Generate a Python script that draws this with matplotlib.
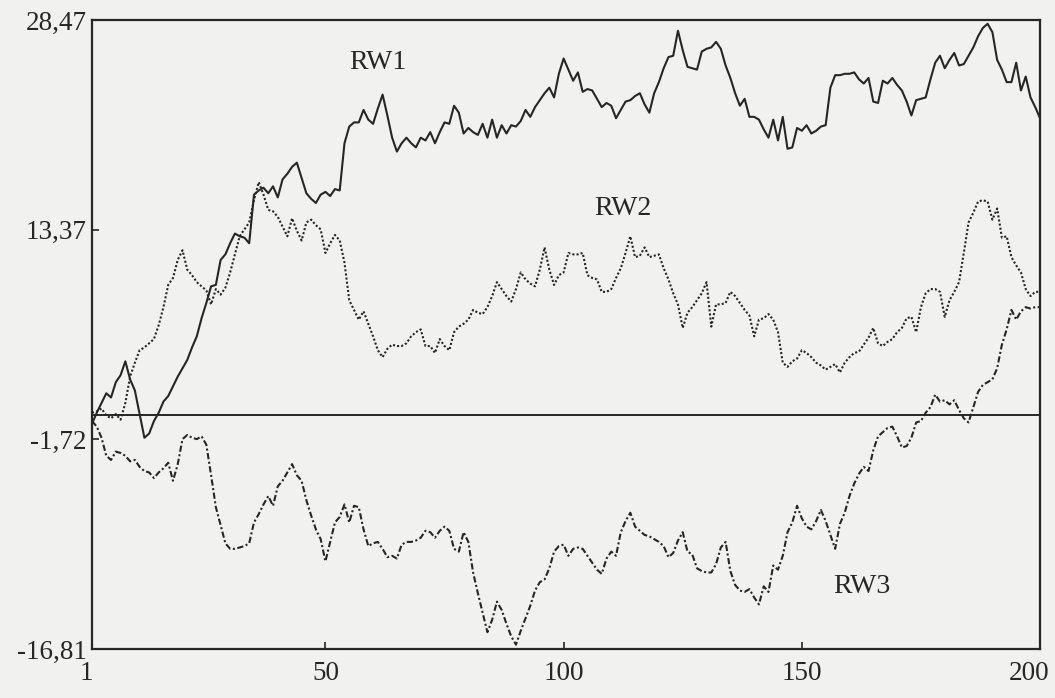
import numpy as np
import matplotlib
matplotlib.use("Agg")
import matplotlib.pyplot as plt
from matplotlib.transforms import offset_copy

# three random walks, 200 steps each
rw1 = [-0.6, 0.2, 0.9, 1.6, 1.3, 2.4, 2.9, 3.9, 2.6, 1.8,
       0.1, -1.6, -1.3, -0.4, 0.2, 1.0, 1.4, 2.1, 2.8, 3.4,
       4.0, 4.9, 5.7, 7.0, 8.1, 9.3, 9.4, 11.2, 11.6, 12.4,
       13.1, 12.9, 12.8, 12.4, 15.9, 16.2, 16.4, 16.0, 16.5, 15.7,
       17.0, 17.4, 17.9, 18.2, 17.1, 16.0, 15.6, 15.3, 15.9, 16.1,
       15.8, 16.3, 16.2, 19.6, 20.8, 21.1, 21.1, 22.0, 21.3, 21.0,
       22.1, 23.1, 21.6, 20.0, 19.0, 19.6, 20.0, 19.6, 19.3, 20.0,
       19.8, 20.4, 19.6, 20.4, 21.1, 21.0, 22.3, 21.8, 20.3, 20.7,
       20.4, 20.2, 21.0, 20.0, 21.3, 20.0, 20.9, 20.3, 20.9, 20.8,
       21.2, 22.0, 21.5, 22.2, 22.7, 23.2, 23.6, 22.9, 24.6, 25.7,
       24.9, 24.1, 24.7, 23.3, 23.5, 23.4, 22.8, 22.2, 22.5, 22.3,
       21.4, 22.0, 22.6, 22.7, 23.0, 23.2, 22.4, 21.8, 23.2, 24.0,
       25.0, 25.8, 25.9, 27.7, 26.3, 25.1, 25.0, 24.9, 26.2, 26.4,
       26.5, 26.9, 26.4, 25.2, 24.3, 23.2, 22.3, 22.8, 21.5, 21.5,
       21.3, 20.6, 20.0, 21.3, 19.8, 21.5, 19.2, 19.3, 20.7, 20.5,
       20.9, 20.3, 20.5, 20.8, 20.9, 23.6, 24.5, 24.5, 24.6, 24.6,
       24.7, 24.2, 23.9, 24.3, 22.6, 22.5, 24.1, 23.9, 24.3, 23.8,
       23.4, 22.6, 21.6, 22.7, 22.8, 22.9, 24.2, 25.4, 25.9, 25.0,
       25.6, 26.1, 25.2, 25.3, 25.9, 26.5, 27.3, 27.9, 28.2, 27.6,
       25.6, 24.9, 24.0, 24.0, 25.4, 23.4, 24.4, 22.9, 22.2, 21.4]

rw2 = [0.2, 0.3, 0.5, 0.0, -0.2, 0.1, -0.3, 0.9, 2.8, 3.8,
       4.7, 4.9, 5.2, 5.5, 6.5, 7.8, 9.4, 9.9, 11.2, 11.9,
       10.5, 10.1, 9.6, 9.3, 9.0, 8.0, 9.1, 8.7, 9.2, 10.3,
       11.6, 12.9, 13.4, 13.9, 15.5, 16.8, 15.9, 14.8, 14.7, 14.3,
       13.6, 12.9, 14.2, 13.3, 12.6, 13.9, 14.1, 13.7, 13.4, 11.7,
       12.4, 13.0, 12.6, 11.0, 8.3, 7.6, 6.9, 7.5, 6.6, 5.7,
       4.7, 4.2, 4.8, 5.1, 5.0, 5.0, 5.2, 5.7, 6.0, 6.2,
       5.0, 5.0, 4.5, 5.5, 5.0, 4.7, 6.0, 6.4, 6.6, 6.9,
       7.6, 7.4, 7.3, 7.8, 8.6, 9.6, 9.1, 8.6, 8.2, 9.1,
       10.3, 9.8, 9.5, 9.3, 10.5, 12.1, 10.5, 9.4, 10.1, 10.3,
       11.7, 11.6, 11.6, 11.7, 10.1, 9.9, 9.8, 8.9, 8.9, 9.1,
       9.9, 10.6, 11.7, 12.9, 11.4, 11.5, 12.1, 11.4, 11.5, 11.6,
       10.6, 9.8, 8.8, 8.0, 6.3, 7.4, 7.8, 8.3, 8.8, 9.6,
       6.4, 8.0, 8.0, 8.1, 8.9, 8.6, 8.1, 7.6, 7.2, 5.7,
       6.9, 7.0, 7.3, 6.9, 6.0, 3.8, 3.5, 3.9, 4.1, 4.7,
       4.5, 4.2, 3.8, 3.6, 3.3, 3.5, 3.7, 3.1, 3.8, 4.2,
       4.5, 4.6, 5.1, 5.6, 6.3, 5.2, 5.0, 5.3, 5.5, 6.0,
       6.3, 7.0, 7.1, 6.0, 7.8, 8.8, 9.1, 9.1, 8.9, 7.1,
       8.3, 8.9, 9.6, 11.7, 13.9, 14.6, 15.4, 15.5, 15.4, 14.1,
       14.9, 12.8, 12.9, 11.4, 10.8, 10.3, 9.1, 8.6, 8.9, 8.9]

rw3 = [-0.4, -0.8, -1.6, -2.9, -3.2, -2.6, -2.7, -2.9, -3.3, -3.2,
       -3.7, -4.0, -4.1, -4.5, -4.1, -3.8, -3.4, -4.7, -3.5, -1.7,
       -1.4, -1.6, -1.7, -1.5, -2.1, -4.3, -6.6, -7.9, -9.2, -9.6,
       -9.6, -9.5, -9.4, -9.2, -7.7, -7.1, -6.4, -5.8, -6.5, -5.1,
       -4.7, -4.1, -3.5, -4.3, -4.7, -6.1, -7.2, -8.2, -8.9, -10.5,
       -9.1, -7.7, -7.3, -6.4, -7.7, -6.5, -6.6, -8.2, -9.4, -9.2,
       -9.1, -9.6, -10.2, -10.1, -10.3, -9.3, -9.1, -9.1, -9.0, -8.8,
       -8.3, -8.4, -8.8, -8.3, -8.0, -8.3, -9.6, -9.8, -8.4, -9.1,
       -11.3, -12.8, -14.2, -15.6, -14.7, -13.4, -14.0, -15.0, -15.9, -16.5,
       -15.5, -14.6, -13.7, -12.6, -12.0, -11.8, -11.0, -9.8, -9.4, -9.3,
       -10.1, -9.6, -9.5, -9.6, -10.1, -10.6, -11.1, -11.4, -10.3, -9.8,
       -10.1, -8.4, -7.6, -7.0, -8.0, -8.3, -8.6, -8.7, -8.9, -9.1,
       -9.4, -10.2, -9.9, -9.0, -8.4, -9.8, -10.0, -11.0, -11.2, -11.3,
       -11.3, -10.7, -9.5, -9.1, -11.2, -12.2, -12.6, -12.7, -12.5, -13.1,
       -13.6, -12.3, -12.7, -10.8, -11.1, -10.1, -8.4, -7.7, -6.5, -7.4,
       -8.0, -8.2, -7.6, -6.8, -7.6, -8.6, -9.6, -7.8, -7.0, -5.8,
       -4.9, -4.2, -3.7, -4.0, -2.5, -1.5, -1.2, -0.9, -0.8, -1.5,
       -2.3, -2.2, -1.6, -0.5, -0.4, 0.2, 0.6, 1.5, 1.0, 1.1,
       0.8, 1.1, 0.4, -0.2, -0.5, 0.6, 1.7, 2.2, 2.4, 2.6,
       3.4, 5.1, 6.2, 7.6, 6.9, 7.5, 7.8, 7.7, 7.8, 7.8]

y_ticks = [28.47, 13.37, -1.72, -16.81]
y_ticklabels = ['28,47', '13,37', '-1,72', '-16,81']
x_ticks = [1, 50, 100, 150, 200]
x_ticklabels = ['1', '50', '100', '150', '200']

plt.rcParams['font.family'] = ['Liberation Serif', 'DejaVu Serif']
ink = '#262626'
paper = '#f1f1ef'

steps = np.arange(1, len(rw1) + 1)

fig = plt.figure(figsize=(10.55, 6.98), dpi=100, facecolor=paper)
ax = fig.add_axes([0.0872, 0.0702, 0.8986, 0.9011], facecolor=paper)

ax.plot(steps, rw1, color=ink, lw=1.5, linestyle='-')
ax.plot(steps, rw2, color=ink, lw=1.5, linestyle=(0, (1, 1)))
ax.plot(steps, rw3, color=ink, lw=1.5, linestyle=(0, (3, 1.2, 1, 1.2)))
ax.axhline(0, color=ink, lw=1.4)

ax.text(61, 25.4, 'RW1', fontsize=20, color=ink, ha='center', va='center')
ax.text(112.5, 14.9, 'RW2', fontsize=20, color=ink, ha='center', va='center')
ax.text(162.5, -12.3, 'RW3', fontsize=20, color=ink, ha='center', va='center')

ax.set_xlim(1, 200)
ax.set_ylim(-16.81, 28.47)
ax.set_xticks(x_ticks)
ax.set_xticklabels([])
ax.set_yticks(y_ticks)
ax.set_yticklabels(y_ticklabels)
ax.tick_params(axis='both', direction='in', length=5, width=1.2, colors=ink,
               labelsize=19.5)
ax.tick_params(axis='y', pad=4)

# x labels: the first and last are nudged left, as in the original print
shifts = [-6, 0, 0, 0, -11]
for xv, lab, dx in zip(x_ticks, x_ticklabels, shifts):
    tr = offset_copy(ax.get_xaxis_transform(), fig=fig, x=dx, y=-12, units='dots')
    ax.text(xv, 0, lab, transform=tr, ha='center', va='top', fontsize=19.5, color=ink)

for sp in ax.spines.values():
    sp.set_linewidth(1.6)
    sp.set_color(ink)

fig.savefig('out.png', dpi=100, facecolor=paper)
